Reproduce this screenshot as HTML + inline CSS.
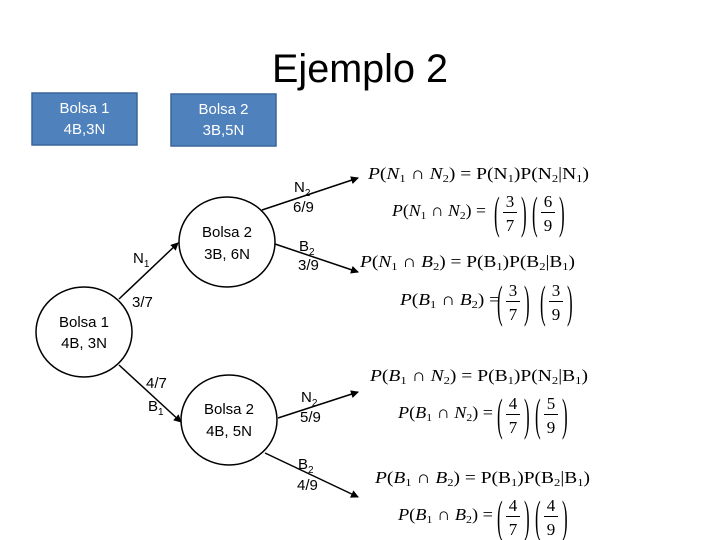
<!DOCTYPE html>
<html><head><meta charset="utf-8"><style>
html,body{margin:0;padding:0;background:#fff}
svg{display:block}
.s{font-family:"Liberation Sans",sans-serif;font-size:15px;fill:#000}
.w{font-family:"Liberation Sans",sans-serif;font-size:15px;fill:#fff}
.m{font-family:"Liberation Serif",serif;font-size:17px;fill:#000}
.i{font-style:italic}
</style></head><body>
<svg width="720" height="540" viewBox="0 0 720 540" xmlns="http://www.w3.org/2000/svg">
<defs><marker id="a" markerWidth="8" markerHeight="8" refX="7" refY="4" orient="auto" markerUnits="userSpaceOnUse"><path d="M0,0 L8,4 L0,8 z" fill="#000"/></marker></defs>
<text x="272" y="82" font-family="Liberation Sans,sans-serif" font-size="40" textLength="176" lengthAdjust="spacingAndGlyphs">Ejemplo 2</text>
<rect x="32" y="93" width="105" height="52" fill="#4f81bd" stroke="#3a659a" stroke-width="1.5"/>
<rect x="171" y="94" width="105" height="52" fill="#4f81bd" stroke="#3a659a" stroke-width="1.5"/>
<text class="w" x="84.5" y="113" text-anchor="middle">Bolsa 1</text>
<text class="w" x="84.5" y="134" text-anchor="middle">4B,3N</text>
<text class="w" x="223.5" y="114" text-anchor="middle">Bolsa 2</text>
<text class="w" x="223.5" y="135" text-anchor="middle">3B,5N</text>
<g fill="none" stroke="#000" stroke-width="1.5">
<ellipse cx="84" cy="332" rx="48" ry="45"/>
<ellipse cx="227" cy="242" rx="48" ry="45"/>
<ellipse cx="229" cy="420" rx="48" ry="45"/>
<line x1="119" y1="299" x2="178" y2="243" marker-end="url(#a)"/>
<line x1="119" y1="365" x2="181" y2="422" marker-end="url(#a)"/>
<line x1="262" y1="210" x2="358" y2="178" marker-end="url(#a)"/>
<line x1="275" y1="244" x2="358" y2="272" marker-end="url(#a)"/>
<line x1="278" y1="418" x2="358" y2="392" marker-end="url(#a)"/>
<line x1="265" y1="453" x2="358" y2="497" marker-end="url(#a)"/>
</g>
<text class="s" x="84" y="327" text-anchor="middle">Bolsa 1</text>
<text class="s" x="84" y="348" text-anchor="middle">4B, 3N</text>
<text class="s" x="227" y="237" text-anchor="middle">Bolsa 2</text>
<text class="s" x="227" y="259" text-anchor="middle">3B, 6N</text>
<text class="s" x="229" y="414" text-anchor="middle">Bolsa 2</text>
<text class="s" x="229" y="436" text-anchor="middle">4B, 5N</text>
<text class="s" x="133" y="263">N<tspan font-size="10" dy="4">1</tspan></text>
<text class="s" x="132" y="307">3/7</text>
<text class="s" x="146" y="388">4/7</text>
<text class="s" x="148" y="411">B<tspan font-size="10" dy="4">1</tspan></text>
<text class="s" x="294" y="192">N<tspan font-size="10" dy="4">2</tspan></text>
<text class="s" x="293" y="212">6/9</text>
<text class="s" x="299" y="251">B<tspan font-size="10" dy="4">2</tspan></text>
<text class="s" x="298" y="270">3/9</text>
<text class="s" x="301" y="402">N<tspan font-size="10" dy="4">2</tspan></text>
<text class="s" x="300" y="422">5/9</text>
<text class="s" x="298" y="469">B<tspan font-size="10" dy="4">2</tspan></text>
<text class="s" x="297" y="490">4/9</text>

<text class="m" x="368" y="179" textLength="221" lengthAdjust="spacingAndGlyphs"><tspan class="i">P</tspan>(<tspan class="i">N</tspan><tspan font-size="11" dy="3">1</tspan><tspan dy="-3"> ∩ </tspan><tspan class="i">N</tspan><tspan font-size="11" dy="3">2</tspan><tspan dy="-3">) = P(N</tspan><tspan font-size="11" dy="3">1</tspan><tspan dy="-3">)P(N</tspan><tspan font-size="11" dy="3">2</tspan><tspan dy="-3">|N</tspan><tspan font-size="11" dy="3">1</tspan><tspan dy="-3">)</tspan></text>
<text class="m" x="360" y="267" textLength="215" lengthAdjust="spacingAndGlyphs"><tspan class="i">P</tspan>(<tspan class="i">N</tspan><tspan font-size="11" dy="3">1</tspan><tspan dy="-3"> ∩ </tspan><tspan class="i">B</tspan><tspan font-size="11" dy="3">2</tspan><tspan dy="-3">) = P(B</tspan><tspan font-size="11" dy="3">1</tspan><tspan dy="-3">)P(B</tspan><tspan font-size="11" dy="3">2</tspan><tspan dy="-3">|B</tspan><tspan font-size="11" dy="3">1</tspan><tspan dy="-3">)</tspan></text>
<text class="m" x="370" y="381" textLength="218" lengthAdjust="spacingAndGlyphs"><tspan class="i">P</tspan>(<tspan class="i">B</tspan><tspan font-size="11" dy="3">1</tspan><tspan dy="-3"> ∩ </tspan><tspan class="i">N</tspan><tspan font-size="11" dy="3">2</tspan><tspan dy="-3">) = P(B</tspan><tspan font-size="11" dy="3">1</tspan><tspan dy="-3">)P(N</tspan><tspan font-size="11" dy="3">2</tspan><tspan dy="-3">|B</tspan><tspan font-size="11" dy="3">1</tspan><tspan dy="-3">)</tspan></text>
<text class="m" x="375" y="483" textLength="215" lengthAdjust="spacingAndGlyphs"><tspan class="i">P</tspan>(<tspan class="i">B</tspan><tspan font-size="11" dy="3">1</tspan><tspan dy="-3"> ∩ </tspan><tspan class="i">B</tspan><tspan font-size="11" dy="3">2</tspan><tspan dy="-3">) = P(B</tspan><tspan font-size="11" dy="3">1</tspan><tspan dy="-3">)P(B</tspan><tspan font-size="11" dy="3">2</tspan><tspan dy="-3">|B</tspan><tspan font-size="11" dy="3">1</tspan><tspan dy="-3">)</tspan></text>

<!-- fraction rows -->
<g class="m">
<text class="m" x="392" y="216" textLength="94" lengthAdjust="spacingAndGlyphs"><tspan class="i">P</tspan>(<tspan class="i">N</tspan><tspan font-size="11" dy="3">1</tspan><tspan dy="-3"> ∩ </tspan><tspan class="i">N</tspan><tspan font-size="11" dy="3">2</tspan><tspan dy="-3">) =</tspan></text>
<text class="m" x="400" y="305" textLength="100" lengthAdjust="spacingAndGlyphs"><tspan class="i">P</tspan>(<tspan class="i">B</tspan><tspan font-size="11" dy="3">1</tspan><tspan dy="-3"> ∩ </tspan><tspan class="i">B</tspan><tspan font-size="11" dy="3">2</tspan><tspan dy="-3">) =</tspan></text>
<text class="m" x="398" y="418" textLength="95" lengthAdjust="spacingAndGlyphs"><tspan class="i">P</tspan>(<tspan class="i">B</tspan><tspan font-size="11" dy="3">1</tspan><tspan dy="-3"> ∩ </tspan><tspan class="i">N</tspan><tspan font-size="11" dy="3">2</tspan><tspan dy="-3">) =</tspan></text>
<text class="m" x="398" y="520" textLength="95" lengthAdjust="spacingAndGlyphs"><tspan class="i">P</tspan>(<tspan class="i">B</tspan><tspan font-size="11" dy="3">1</tspan><tspan dy="-3"> ∩ </tspan><tspan class="i">B</tspan><tspan font-size="11" dy="3">2</tspan><tspan dy="-3">) =</tspan></text>
</g>
<g font-family="Liberation Serif,serif" font-size="17" text-anchor="middle">
<!-- row2 baseline 216 -->
<text x="510" y="207">3</text><text x="510" y="231">7</text>
<text x="548" y="207">6</text><text x="548" y="231">9</text>
<text x="513" y="296">3</text><text x="513" y="320">7</text>
<text x="556" y="296">3</text><text x="556" y="320">9</text>
<text x="513" y="409">4</text><text x="513" y="433">7</text>
<text x="551" y="409">5</text><text x="551" y="433">9</text>
<text x="513" y="511">4</text><text x="513" y="535">7</text>
<text x="551" y="511">4</text><text x="551" y="535">9</text>
</g>
<g stroke="#000" stroke-width="1">
<line x1="503" y1="212.5" x2="517" y2="212.5"/><line x1="541" y1="212.5" x2="555" y2="212.5"/>
<line x1="506" y1="301.5" x2="520" y2="301.5"/><line x1="549" y1="301.5" x2="563" y2="301.5"/>
<line x1="506" y1="414.5" x2="520" y2="414.5"/><line x1="544" y1="414.5" x2="558" y2="414.5"/>
<line x1="506" y1="516.5" x2="520" y2="516.5"/><line x1="544" y1="516.5" x2="558" y2="516.5"/>
</g>
<g font-family="Liberation Serif,serif" font-size="17">
<text transform="translate(494,228) scale(1,2.7)">(</text><text transform="translate(521,228) scale(1,2.7)">)</text>
<text transform="translate(532,228) scale(1,2.7)">(</text><text transform="translate(559,228) scale(1,2.7)">)</text>
<text transform="translate(497,317) scale(1,2.7)">(</text><text transform="translate(524,317) scale(1,2.7)">)</text>
<text transform="translate(540,317) scale(1,2.7)">(</text><text transform="translate(567,317) scale(1,2.7)">)</text>
<text transform="translate(497,430) scale(1,2.7)">(</text><text transform="translate(524,430) scale(1,2.7)">)</text>
<text transform="translate(535,430) scale(1,2.7)">(</text><text transform="translate(562,430) scale(1,2.7)">)</text>
<text transform="translate(497,532) scale(1,2.7)">(</text><text transform="translate(524,532) scale(1,2.7)">)</text>
<text transform="translate(535,532) scale(1,2.7)">(</text><text transform="translate(562,532) scale(1,2.7)">)</text>
</g>
</svg>
</body></html>
